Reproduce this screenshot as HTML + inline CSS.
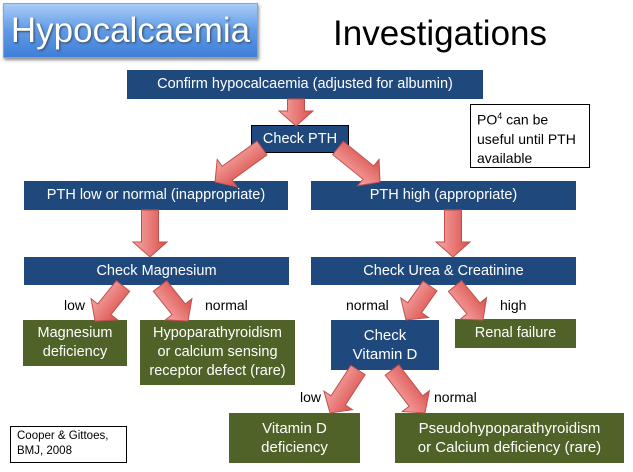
<!DOCTYPE html>
<html><head><meta charset="utf-8"><style>
body{margin:0;width:633px;height:472px;background:#fff;position:relative;overflow:hidden;font-family:"Liberation Sans",sans-serif}
.b{position:absolute;background:#1f497d;color:#fff;display:flex;align-items:center;justify-content:center;text-align:center;font-size:14.5px;line-height:19px;box-sizing:border-box}
.g{background:#4f6228}
.t{position:absolute;font-size:14px;color:#000}
</style></head><body>
<div style="position:absolute;left:3px;top:3px;width:255px;height:55px;background:linear-gradient(#a8cdf7,#5f9ae6 50%,#3f7fd8);box-shadow:1px 2px 3px #888;border:1px solid #7aa8e0;box-sizing:border-box;color:#fff;font-size:35px;display:flex;align-items:center;justify-content:center;text-shadow:1px 1px 2px #345">Hypocalcaemia</div>
<div class="t" style="left:333px;top:14px;font-size:35px">Investigations</div>
<div class="b" style="left:127px;top:70px;width:356px;height:29px">Confirm hypocalcaemia (adjusted for albumin)</div>
<div class="b" style="left:251px;top:125px;width:98px;height:28px;border:1px solid #000">Check PTH</div>
<div style="position:absolute;left:470px;top:104px;width:120px;height:64px;border:1px solid #000;box-sizing:border-box;font-size:14px;line-height:19px;padding:2px 6px">PO<sup style="font-size:9px">4</sup> can be useful until PTH available</div>
<div class="b" style="left:24px;top:181px;width:264px;height:29px">PTH low or normal (inappropriate)</div>
<div class="b" style="left:311px;top:181px;width:265px;height:29px">PTH high (appropriate)</div>
<div class="b" style="left:24px;top:257px;width:265px;height:28px">Check Magnesium</div>
<div class="b" style="left:311px;top:257px;width:265px;height:28px">Check Urea &amp; Creatinine</div>
<div class="b g" style="left:23px;top:320px;width:104px;height:46px">Magnesium<br>deficiency</div>
<div class="b g" style="left:140px;top:320px;width:155px;height:65px">Hypoparathyroidism<br>or calcium sensing<br>receptor defect (rare)</div>
<div class="b" style="left:331px;top:320px;width:108px;height:50px;font-size:15px">Check<br>Vitamin D</div>
<div class="b g" style="left:455px;top:319px;width:121px;height:29px">Renal failure</div>
<div class="b g" style="left:229px;top:413px;width:131px;height:50px;font-size:15px">Vitamin D<br>deficiency</div>
<div class="b g" style="left:395px;top:413px;width:229px;height:50px;font-size:15px">Pseudohypoparathyroidism<br>or Calcium deficiency (rare)</div>
<div style="position:absolute;left:10px;top:426px;width:117px;height:37px;border:1px solid #000;box-sizing:border-box;font-size:11.5px;line-height:15px;padding:2px 6px">Cooper &amp; Gittoes,<br>BMJ, 2008</div>
<div class="t" style="left:64px;top:297px">low</div>
<div class="t" style="left:205px;top:297px">normal</div>
<div class="t" style="left:346px;top:297px">normal</div>
<div class="t" style="left:500px;top:297px">high</div>
<div class="t" style="left:300px;top:389px">low</div>
<div class="t" style="left:434px;top:389px">normal</div>
<svg id="s" width="633" height="472" style="position:absolute;left:0;top:0">
<defs><linearGradient id="rg" x1="0" x2="1" y1="0" y2="0"><stop offset="0" stop-color="#f7a8a6"/><stop offset="1" stop-color="#d9504c"/></linearGradient></defs>
</svg>
<script>
var A=[[296,99,296,126],[262,148,215,182],[338,148,380,182],[150,210,150,257],[453,210,453,257],[123,286,95,321],[160,286,188,321],[430,286,406,320],[455,286,483,320],[358,370,330,413],[392,370,425,413]];
var s=document.getElementById('s'),h='';
A.forEach(function(a){var dx=a[2]-a[0],dy=a[3]-a[1],L=Math.sqrt(dx*dx+dy*dy),ang=Math.atan2(dy,dx)*180/Math.PI-90;
var w=8.5,H=17,hl=15;
var p=[[-w,0],[w,0],[w,L-hl],[H,L-hl],[0,L],[-H,L-hl],[-w,L-hl]].map(function(q){return q.join(',')}).join(' ');
h+='<polygon points="'+p+'" fill="url(#rg)" stroke="#c0504d" stroke-width="1" transform="translate('+a[0]+','+a[1]+') rotate('+ang+')"/>';});
s.innerHTML+=h;
</script>
</body></html>
